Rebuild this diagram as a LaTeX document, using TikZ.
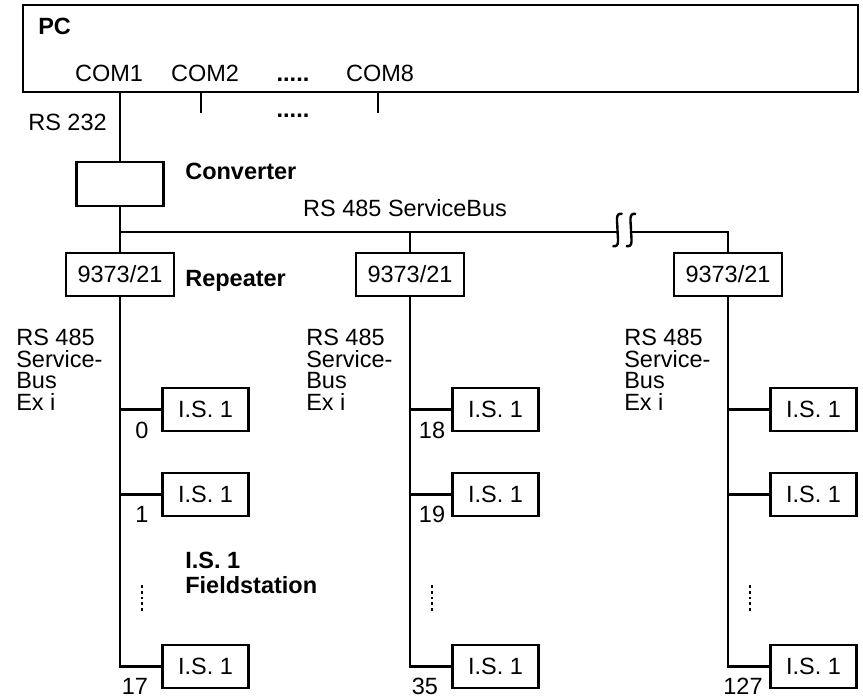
\documentclass[tikz,border=0pt]{standalone}
\usepackage{fontspec}
\setmainfont{Liberation Sans}

\begin{document}
\begin{tikzpicture}[x=1pt,y=-1pt,line width=2.6pt,
  font=\fontsize{23.5}{21.5}\selectfont,
  box/.style={draw, line width=2.9pt, inner sep=0pt, minimum height=43pt},
  isbox/.style={box, minimum width=86pt},
  repbox/.style={box, minimum width=108pt},
  lbl/.style={inner sep=0pt},
  bold/.style={lbl, font=\fontsize{23.5}{25}\selectfont\bfseries},
  dotline/.style={line width=2.8pt, dash pattern=on 2.8pt off 3pt}]
\useasboundingbox (0,0) rectangle (863,698);
\newcommand\strang[2]{
\node[repbox] (#1-rep) at (0,274.5) {9373/21};
\node[isbox] (#1-a) at (85.5,409.5) {I.S. 1};
\node[isbox] (#1-b) at (85.5,494.5) {I.S. 1};
\node[isbox] (#1-c) at (85.5,666.5) {I.S. 1};
\coordinate (#1-ja) at (0,409.5);
\coordinate (#1-jb) at (0,494.5);
\draw (#1-rep) |- (#1-c);
\draw (#1-ja) -- (#1-a);
\draw (#1-jb) -- (#1-b);
\draw[dotline] (22,585) -- (22,612);
\node[lbl, anchor=north west, align=left] at (-105,328) {RS 485\\Service-\\Bus\\Ex i};
\node[lbl, anchor=base] at (15,694) {#2};
}
% PC with ports
\node[box, minimum width=835pt, minimum height=87pt] (pc) at (440.5,48.5) {};
\node[bold, anchor=base west] at (37,35) {PC};
\node[lbl, anchor=base] (com1) at (109,82) {COM1};
\node[lbl, anchor=base] (com2) at (205,82) {COM2};
\node[lbl, anchor=base] (comdots) at (293,82) {\bfseries .....};
\node[lbl, anchor=base] (com8) at (380,82) {COM8};
\coordinate (com2p) at (201,113);
\coordinate (com8p) at (378,113);
\draw (pc.south -| com2p) -- (com2p);
\draw (pc.south -| com8p) -- (com8p);
\node[lbl, anchor=base] at (293,118) {\bfseries .....};
\node[lbl, anchor=base west] at (27,131) {RS 232};
% converter
\node[box, minimum width=87pt, minimum height=44pt] (conv) at (120,184) {};
\node[bold, anchor=base west] at (184,180) {Converter};
\draw (pc.south -| conv) -- (conv);
% field buses
\begin{scope}[xshift=120pt]
\strang{a}{17}
\node[lbl, anchor=base] at (22,438) {0};
\node[lbl, anchor=base] at (22,522) {1};
\end{scope}
\begin{scope}[xshift=410pt]
\strang{b}{35}
\node[lbl, anchor=base] at (22,438) {18};
\node[lbl, anchor=base] at (22,522) {19};
\end{scope}
\begin{scope}[xshift=728pt]
\strang{c}{127}
\end{scope}
\node[bold, anchor=base west] at (184,286) {Repeater};
\node[bold, anchor=north west, align=left] at (184,551) {I.S. 1\\Fieldstation};
% service bus
\coordinate (junc) at (120,232);
\coordinate (bk1) at (617.5,232);
\coordinate (bk2) at (631,232);
\draw (conv) -- (a-rep);
\draw (junc) -- (bk1);
\draw (bk2) -| (c-rep);
\draw (junc -| b-rep) -- (b-rep);
\draw[line width=2.4pt] (622.5,214) .. controls (614.5,212) and (617.5,222) .. (617.5,230)
  .. controls (617.5,238) and (620.5,248) .. (612.5,246);
\draw[line width=2.4pt] (636,214) .. controls (628,212) and (631,222) .. (631,230)
  .. controls (631,238) and (634,248) .. (626,246);
\node[lbl, anchor=base] at (405,217) {RS 485 ServiceBus};
\end{tikzpicture}
\end{document}
